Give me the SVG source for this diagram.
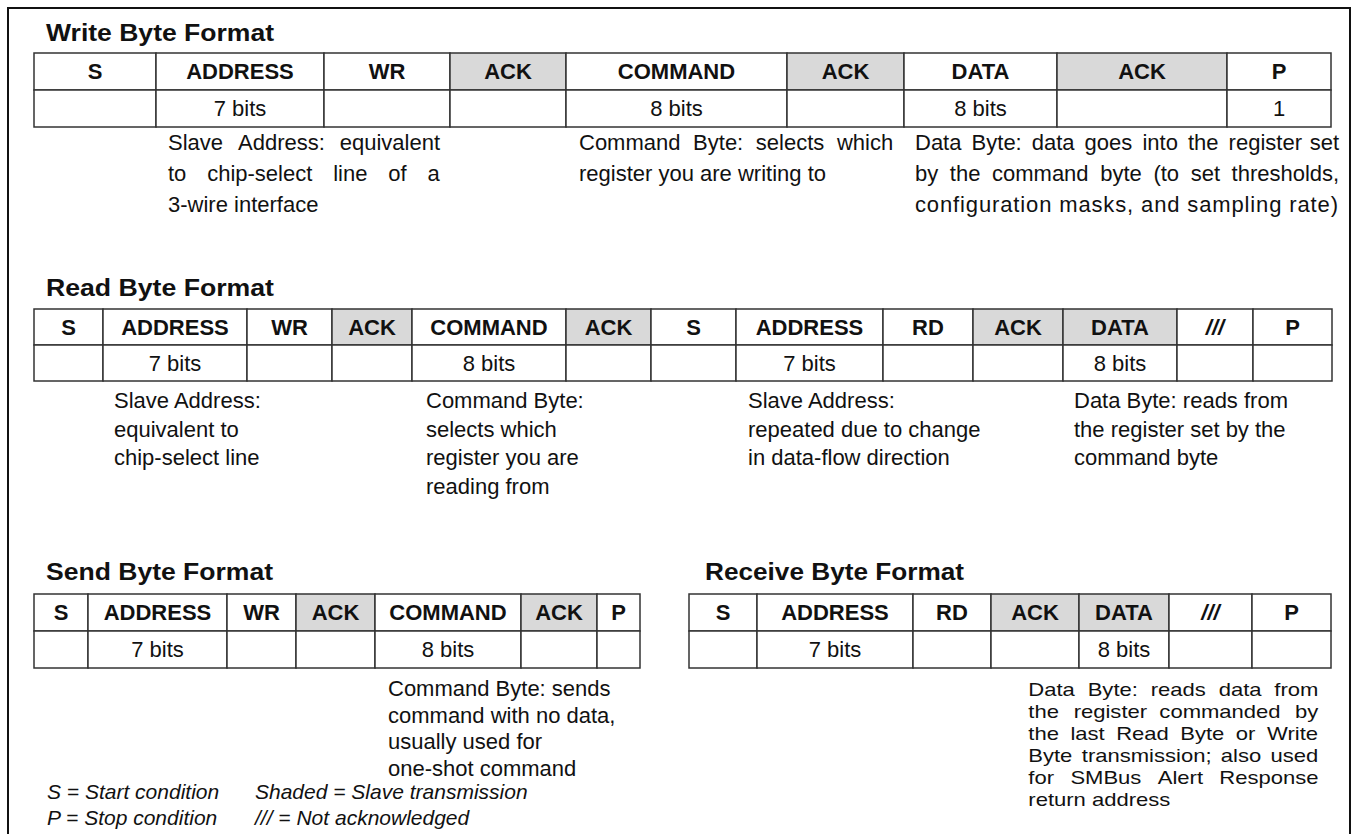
<svg xmlns="http://www.w3.org/2000/svg" width="1357" height="834" viewBox="0 0 1357 834">
<style>
text{font-family:"Liberation Sans",Arial,sans-serif;fill:#111}
.t{font-size:24px;font-weight:bold}
.h{font-size:22px;font-weight:bold;text-anchor:middle}
.b{font-size:22px;text-anchor:middle}
.n{font-size:22px}
.ns{font-size:19px}
.lg{font-size:21px;font-style:italic}
.c{fill:#fff;stroke:#333;stroke-width:1.5}
.s{fill:#d9d9d9;stroke:#333;stroke-width:1.5}
.frame{fill:none;stroke:#111;stroke-width:2}
</style>
<rect width="1357" height="834" fill="#fff"/>
<path class="frame" d="M8,834 V8 H1350 V834"/>

<g id="write">
<text class="t" x="46" y="41" textLength="228" lengthAdjust="spacingAndGlyphs">Write Byte Format</text>
<g id="write-table">
<rect class="c" x="34" y="53" width="122" height="37"/>
<rect class="c" x="156" y="53" width="168" height="37"/>
<rect class="c" x="324" y="53" width="126" height="37"/>
<rect class="s" x="450" y="53" width="116" height="37"/>
<rect class="c" x="566" y="53" width="221" height="37"/>
<rect class="s" x="787" y="53" width="117" height="37"/>
<rect class="c" x="904" y="53" width="153" height="37"/>
<rect class="s" x="1057" y="53" width="170" height="37"/>
<rect class="c" x="1227" y="53" width="104" height="37"/>
<rect class="c" x="34" y="90" width="122" height="37"/>
<rect class="c" x="156" y="90" width="168" height="37"/>
<rect class="c" x="324" y="90" width="126" height="37"/>
<rect class="c" x="450" y="90" width="116" height="37"/>
<rect class="c" x="566" y="90" width="221" height="37"/>
<rect class="c" x="787" y="90" width="117" height="37"/>
<rect class="c" x="904" y="90" width="153" height="37"/>
<rect class="c" x="1057" y="90" width="170" height="37"/>
<rect class="c" x="1227" y="90" width="104" height="37"/>
<text class="h" x="95" y="79">S</text>
<text class="h" x="240" y="79">ADDRESS</text>
<text class="h" x="387" y="79">WR</text>
<text class="h" x="508" y="79">ACK</text>
<text class="h" x="676.5" y="79">COMMAND</text>
<text class="h" x="845.5" y="79">ACK</text>
<text class="h" x="980.5" y="79">DATA</text>
<text class="h" x="1142" y="79">ACK</text>
<text class="h" x="1279" y="79">P</text>
<text class="b" x="240" y="116">7 bits</text>
<text class="b" x="676.5" y="116">8 bits</text>
<text class="b" x="980.5" y="116">8 bits</text>
<text class="b" x="1279" y="116">1</text>
</g>
<g id="write-note-address">
<text class="n" y="150"><tspan x="168">Slave</tspan><tspan x="238">Address:</tspan><tspan x="339.7">equivalent</tspan></text>
<text class="n" y="181"><tspan x="168">to</tspan><tspan x="207.2">chip-select</tspan><tspan x="333.2">line</tspan><tspan x="388.3">of</tspan><tspan x="427.5">a</tspan></text>
<text class="n" x="168" y="212">3-wire interface</text>
</g>
<g id="write-note-command">
<text class="n" y="150"><tspan x="579">Command</tspan><tspan x="693.1">Byte:</tspan><tspan x="755.8">selects</tspan><tspan x="836.9">which</tspan></text>
<text class="n" x="579" y="181">register you are writing to</text>
</g>
<g id="write-note-data">
<text class="n" y="150"><tspan x="915">Data</tspan><tspan x="971.6">Byte:</tspan><tspan x="1031.7">data</tspan><tspan x="1084.6">goes</tspan><tspan x="1142.4">into</tspan><tspan x="1187.9">the</tspan><tspan x="1228.6">register</tspan><tspan x="1309.7">set</tspan></text>
<text class="n" y="181"><tspan x="915">by</tspan><tspan x="949.8">the</tspan><tspan x="992">command</tspan><tspan x="1100.2">byte</tspan><tspan x="1153.4">(to</tspan><tspan x="1190.7">set</tspan><tspan x="1231.6">thresholds,</tspan></text>
<text class="n" x="915" y="212" textLength="423" lengthAdjust="spacing">configuration masks, and sampling rate)</text>
</g>
</g>

<g id="read">
<text class="t" x="46" y="296" textLength="228" lengthAdjust="spacingAndGlyphs">Read Byte Format</text>
<g id="read-table">
<rect class="c" x="34" y="309" width="69" height="36"/>
<rect class="c" x="103" y="309" width="144" height="36"/>
<rect class="c" x="247" y="309" width="85" height="36"/>
<rect class="s" x="332" y="309" width="80" height="36"/>
<rect class="c" x="412" y="309" width="154" height="36"/>
<rect class="s" x="566" y="309" width="85" height="36"/>
<rect class="c" x="651" y="309" width="85" height="36"/>
<rect class="c" x="736" y="309" width="147" height="36"/>
<rect class="c" x="883" y="309" width="90" height="36"/>
<rect class="s" x="973" y="309" width="90" height="36"/>
<rect class="s" x="1063" y="309" width="114" height="36"/>
<rect class="c" x="1177" y="309" width="76" height="36"/>
<rect class="c" x="1253" y="309" width="79" height="36"/>
<rect class="c" x="34" y="345" width="69" height="36"/>
<rect class="c" x="103" y="345" width="144" height="36"/>
<rect class="c" x="247" y="345" width="85" height="36"/>
<rect class="c" x="332" y="345" width="80" height="36"/>
<rect class="c" x="412" y="345" width="154" height="36"/>
<rect class="c" x="566" y="345" width="85" height="36"/>
<rect class="c" x="651" y="345" width="85" height="36"/>
<rect class="c" x="736" y="345" width="147" height="36"/>
<rect class="c" x="883" y="345" width="90" height="36"/>
<rect class="c" x="973" y="345" width="90" height="36"/>
<rect class="c" x="1063" y="345" width="114" height="36"/>
<rect class="c" x="1177" y="345" width="76" height="36"/>
<rect class="c" x="1253" y="345" width="79" height="36"/>
<text class="h" x="68.5" y="335">S</text>
<text class="h" x="175" y="335">ADDRESS</text>
<text class="h" x="289.5" y="335">WR</text>
<text class="h" x="372" y="335">ACK</text>
<text class="h" x="489" y="335">COMMAND</text>
<text class="h" x="608.5" y="335">ACK</text>
<text class="h" x="693.5" y="335">S</text>
<text class="h" x="809.5" y="335">ADDRESS</text>
<text class="h" x="928" y="335">RD</text>
<text class="h" x="1018" y="335">ACK</text>
<text class="h" x="1120" y="335">DATA</text>
<text class="h" x="1215" y="335" font-style="italic">///</text>
<text class="h" x="1292.5" y="335">P</text>
<text class="b" x="175" y="371">7 bits</text>
<text class="b" x="489" y="371">8 bits</text>
<text class="b" x="809.5" y="371">7 bits</text>
<text class="b" x="1120" y="371">8 bits</text>
</g>
<g id="read-note-address">
<text class="n" x="114" y="408">Slave Address:</text>
<text class="n" x="114" y="437">equivalent to</text>
<text class="n" x="114" y="465">chip-select line</text>
</g>
<g id="read-note-command">
<text class="n" x="426" y="408">Command Byte:</text>
<text class="n" x="426" y="437">selects which</text>
<text class="n" x="426" y="465">register you are</text>
<text class="n" x="426" y="494">reading from</text>
</g>
<g id="read-note-address2">
<text class="n" x="748" y="408">Slave Address:</text>
<text class="n" x="748" y="437">repeated due to change</text>
<text class="n" x="748" y="465">in data-flow direction</text>
</g>
<g id="read-note-data">
<text class="n" x="1074" y="408">Data Byte: reads from</text>
<text class="n" x="1074" y="437">the register set by the</text>
<text class="n" x="1074" y="465">command byte</text>
</g>
</g>

<g id="send">
<text class="t" x="46" y="580" textLength="227" lengthAdjust="spacingAndGlyphs">Send Byte Format</text>
<g id="send-table">
<rect class="c" x="34" y="594" width="54" height="37"/>
<rect class="c" x="88" y="594" width="139" height="37"/>
<rect class="c" x="227" y="594" width="69" height="37"/>
<rect class="s" x="296" y="594" width="79" height="37"/>
<rect class="c" x="375" y="594" width="146" height="37"/>
<rect class="s" x="521" y="594" width="76" height="37"/>
<rect class="c" x="597" y="594" width="43" height="37"/>
<rect class="c" x="34" y="631" width="54" height="37"/>
<rect class="c" x="88" y="631" width="139" height="37"/>
<rect class="c" x="227" y="631" width="69" height="37"/>
<rect class="c" x="296" y="631" width="79" height="37"/>
<rect class="c" x="375" y="631" width="146" height="37"/>
<rect class="c" x="521" y="631" width="76" height="37"/>
<rect class="c" x="597" y="631" width="43" height="37"/>
<text class="h" x="61" y="620">S</text>
<text class="h" x="157.5" y="620">ADDRESS</text>
<text class="h" x="261.5" y="620">WR</text>
<text class="h" x="335.5" y="620">ACK</text>
<text class="h" x="448" y="620">COMMAND</text>
<text class="h" x="559" y="620">ACK</text>
<text class="h" x="618.5" y="620">P</text>
<text class="b" x="157.5" y="657">7 bits</text>
<text class="b" x="448" y="657">8 bits</text>
</g>
<g id="send-note">
<text class="n" x="388" y="696">Command Byte: sends</text>
<text class="n" x="388" y="723">command with no data,</text>
<text class="n" x="388" y="749">usually used for</text>
<text class="n" x="388" y="776">one-shot command</text>
</g>
</g>

<g id="receive">
<text class="t" x="705" y="580" textLength="259" lengthAdjust="spacingAndGlyphs">Receive Byte Format</text>
<g id="receive-table">
<rect class="c" x="689" y="594" width="68" height="37"/>
<rect class="c" x="757" y="594" width="156" height="37"/>
<rect class="c" x="913" y="594" width="78" height="37"/>
<rect class="s" x="991" y="594" width="88" height="37"/>
<rect class="s" x="1079" y="594" width="90" height="37"/>
<rect class="c" x="1169" y="594" width="83" height="37"/>
<rect class="c" x="1252" y="594" width="79" height="37"/>
<rect class="c" x="689" y="631" width="68" height="37"/>
<rect class="c" x="757" y="631" width="156" height="37"/>
<rect class="c" x="913" y="631" width="78" height="37"/>
<rect class="c" x="991" y="631" width="88" height="37"/>
<rect class="c" x="1079" y="631" width="90" height="37"/>
<rect class="c" x="1169" y="631" width="83" height="37"/>
<rect class="c" x="1252" y="631" width="79" height="37"/>
<text class="h" x="723" y="620">S</text>
<text class="h" x="835" y="620">ADDRESS</text>
<text class="h" x="952" y="620">RD</text>
<text class="h" x="1035" y="620">ACK</text>
<text class="h" x="1124" y="620">DATA</text>
<text class="h" x="1210.5" y="620" font-style="italic">///</text>
<text class="h" x="1291.5" y="620">P</text>
<text class="b" x="835" y="657">7 bits</text>
<text class="b" x="1124" y="657">8 bits</text>
</g>
<g id="receive-note" transform="translate(1028.3 0) scale(1.16 1)">
<text class="ns" y="696"><tspan x="0">Data</tspan><tspan x="51.2">Byte:</tspan><tspan x="105.5">reads</tspan><tspan x="164.1">data</tspan><tspan x="212.1">from</tspan></text>
<text class="ns" y="718"><tspan x="0">the</tspan><tspan x="39.1">register</tspan><tspan x="113">commanded</tspan><tspan x="230">by</tspan></text>
<text class="ns" y="740"><tspan x="0">the</tspan><tspan x="36.3">last</tspan><tspan x="75.8">Read</tspan><tspan x="131">Byte</tspan><tspan x="178.9">or</tspan><tspan x="205.8">Write</tspan></text>
<text class="ns" y="762"><tspan x="0">Byte</tspan><tspan x="46.1">transmission;</tspan><tspan x="166">also</tspan><tspan x="208.9">used</tspan></text>
<text class="ns" y="784"><tspan x="0">for</tspan><tspan x="36.3">SMBus</tspan><tspan x="111.6">Alert</tspan><tspan x="164.7">Response</tspan></text>
<text class="ns" x="0" y="806">return address</text>
</g>
</g>

<g id="legend">
<text class="lg" x="47" y="799">S = Start condition</text>
<text class="lg" x="255" y="799">Shaded = Slave transmission</text>
<text class="lg" x="47" y="825">P = Stop condition</text>
<text class="lg" x="255" y="825">/// = Not acknowledged</text>
</g>
</svg>
